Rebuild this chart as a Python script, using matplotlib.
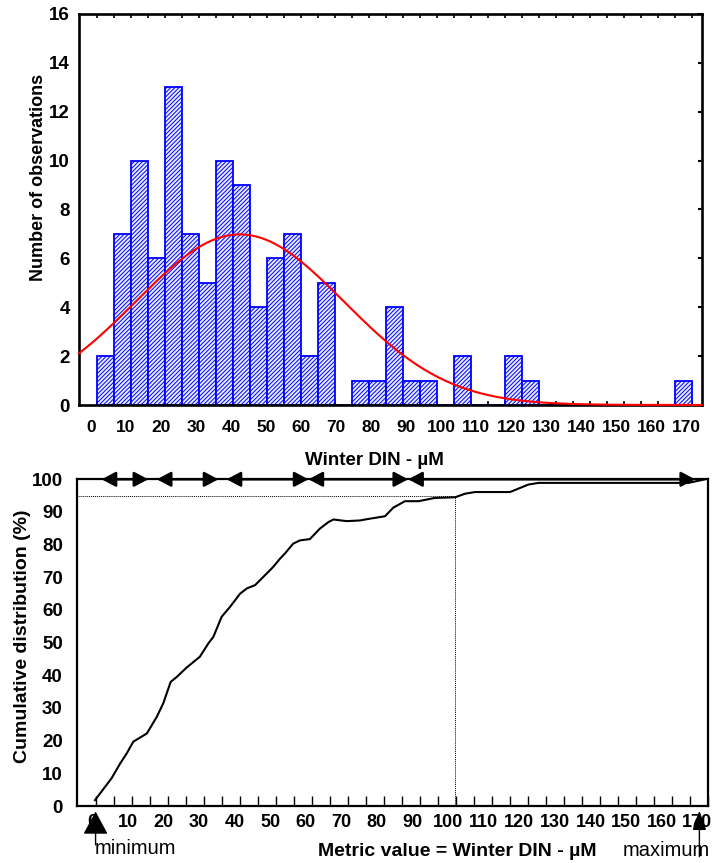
import numpy as np
import matplotlib
matplotlib.use("Agg")
import matplotlib.pyplot as plt

# histogram of winter DIN (35 equal bins between data min and max)
counts = [2, 7, 10, 6, 13, 7, 5, 10, 9, 4, 6, 7, 2, 5, 0, 1, 1, 4, 1, 1,
          0, 2, 0, 0, 2, 1, 0, 0, 0, 0, 0, 0, 0, 0, 1]
bin_lo, bin_hi = 1.6, 171.6
fit_mean, fit_sd = 42.5, 29.7
hist_ticks = list(range(0, 171, 10))
hist_yticks = list(range(0, 17, 2))

# cumulative distribution
cdf_x = [0.84, 5.5, 7.9, 9.75, 11.6, 15.4, 18.2, 20.0, 22.1, 23.8, 26.6, 30.3, 32.7,
         34.1, 36.4, 38.8, 41.6, 43.5, 45.8, 49.1, 50.9, 52.8, 54.2, 56.5, 58.4, 61.2,
         64.0, 66.4, 67.8, 71.5, 75.3, 76.7, 82.3, 84.6, 87.9, 91.7, 96.3, 102.0,
         104.8, 107.6, 117.4, 122.6, 125.4, 167.5, 172.2]
cdf_y = [1.8, 8.5, 13.0, 16.1, 19.7, 22.2, 27.3, 31.4, 38.0, 39.5, 42.4, 45.7, 49.8,
         51.8, 57.9, 61.0, 65.0, 66.6, 67.6, 71.2, 73.2, 75.7, 77.3, 80.3, 81.3, 81.7,
         84.9, 86.9, 87.7, 87.2, 87.4, 87.7, 88.7, 91.3, 93.3, 93.3, 94.3, 94.5,
         95.6, 96.1, 96.1, 98.4, 98.9, 98.9, 100.0]
p95_x, p95_y = 102.0, 95.0
arrow_ranges = [(2.7, 15.8), (18.2, 35.5), (37.8, 60.8), (60.8, 88.8), (88.8, 169.4)]
min_x, max_x = 1.0, 170.6
cdf_ticks = list(range(0, 171, 10))
cdf_yticks = list(range(0, 101, 10))

plt.rcParams['font.family'] = ['Liberation Sans', 'DejaVu Sans']
plt.rcParams['font.weight'] = 'bold'
plt.rcParams['hatch.linewidth'] = 0.7

W, H = 715, 863
fig = plt.figure(figsize=(W / 100, H / 100), dpi=100)


def fx(px):
    return px / W


def fy(py):
    return 1 - py / H


# ---- top: histogram with normal fit
ax1 = fig.add_axes([fx(79), fy(405), fx(701.7) - fx(79), fy(14) - fy(405)])
edges = np.linspace(bin_lo, bin_hi, len(counts) + 1)
binw = edges[1] - edges[0]
ax1.bar(edges[:-1], counts, width=binw, align='edge', facecolor='#e6ebff',
        edgecolor='#0000ff', linewidth=1.3, hatch='////////', zorder=2)
xs = np.linspace(-3.4, 174.3, 400)
fit = sum(counts) * binw * np.exp(-0.5 * ((xs - fit_mean) / fit_sd) ** 2) / (fit_sd * np.sqrt(2 * np.pi))
ax1.plot(xs, fit, color='red', lw=1.5, zorder=3, clip_on=False)
ax1.set_xlim(-3.4, 174.3)
ax1.set_ylim(0, 16)
ax1.set_xticks(hist_ticks)
ax1.set_xticks(edges, minor=True)
ax1.set_yticks(hist_yticks)
ax1.tick_params(axis='x', which='major', length=0, pad=11, labelsize=12.5)
ax1.tick_params(axis='x', which='minor', direction='in', top=True, bottom=True, length=3, width=1.2)
ax1.tick_params(axis='y', which='major', left=False, right=True, direction='in',
                length=3, width=1.5, pad=6.5, labelsize=13.5)
for s in ax1.spines.values():
    s.set_linewidth(1.9)

# ---- bottom: cumulative distribution
ax2 = fig.add_axes([fx(76.7), fy(806), fx(708.3) - fx(76.7), fy(479.3) - fy(806)])
ax2.plot(cdf_x, cdf_y, color='black', lw=1.5, zorder=3)
ax2.plot([-4.3, p95_x], [p95_y, p95_y], color='black', lw=0.7, dashes=(1, 1))
ax2.plot([p95_x, p95_x], [0, p95_y], color='black', lw=0.7, dashes=(1, 1))
ax2.set_xlim(-4.3, 173.1)
ax2.set_ylim(0, 100)
ax2.set_xticks(cdf_ticks)
ax2.set_xticks(np.linspace(1.0, 173.1, 35), minor=True)
ax2.set_yticks(cdf_yticks)
ax2.tick_params(axis='x', which='major', length=0, pad=6, labelsize=13)
ax2.tick_params(axis='x', which='minor', direction='in', length=7, width=1.0)
ax2.tick_params(axis='y', length=0, pad=10, labelsize=13.5)
for s in ax2.spines.values():
    s.set_linewidth(1.6)

for a, b in arrow_ranges:
    ax2.annotate('', xy=(b, 100), xytext=(a, 100), annotation_clip=False,
                 arrowprops=dict(arrowstyle='<|-|>,head_length=0.85,head_width=0.45',
                                 mutation_scale=10, lw=1.8, color='black',
                                 shrinkA=0, shrinkB=0))

ax2.annotate('', xy=(min_x, -1.7), xytext=(min_x, -11.9), annotation_clip=False,
             arrowprops=dict(arrowstyle='-|>,head_length=1.2,head_width=0.65',
                             mutation_scale=12, lw=1.0, color='black', shrinkA=0, shrinkB=0))
ax2.annotate('', xy=(max_x, -1.4), xytext=(max_x, -15.5), annotation_clip=False,
             arrowprops=dict(arrowstyle='-|>,head_length=1.0,head_width=0.35',
                             mutation_scale=12, lw=1.0, color='black', shrinkA=0, shrinkB=0))

# ---- texts
fig.text(fx(374), fy(465), 'Winter DIN - µM', ha='center', va='baseline', fontsize=13.5)
fig.text(fx(38.5), fy(177), 'Number of observations', ha='center', va='center',
         rotation=90, fontsize=13)
fig.text(fx(22.5), fy(636.7), 'Cumulative distribution (%)', ha='center', va='center',
         rotation=90, fontsize=14)
fig.text(fx(457.5), fy(856), 'Metric value = Winter DIN - µM', ha='center', va='baseline',
         fontsize=14)
fig.text(fx(95), fy(854), 'minimum', ha='left', va='baseline', fontsize=14.5, fontweight='normal')
fig.text(fx(623), fy(856), 'maximum', ha='left', va='baseline', fontsize=14.5, fontweight='normal')

fig.savefig('out.png', dpi=100)
